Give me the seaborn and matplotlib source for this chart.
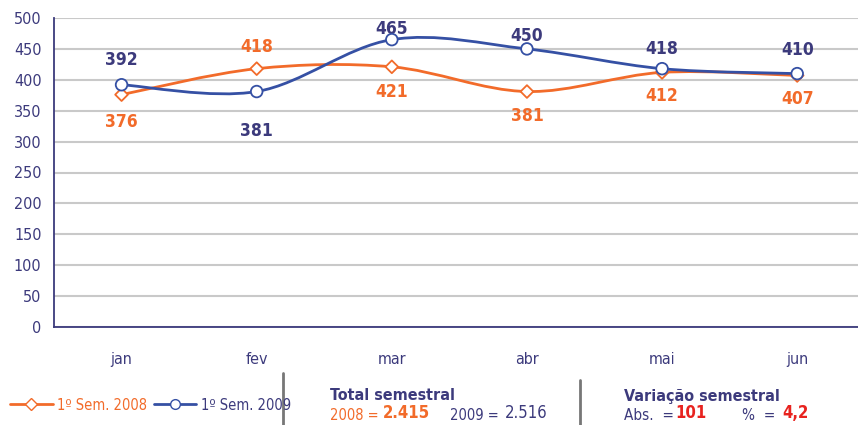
import numpy as np
import pandas as pd
import matplotlib
matplotlib.use("Agg")
import matplotlib.pyplot as plt
import seaborn as sns
from matplotlib.path import Path
from matplotlib.patches import PathPatch
from matplotlib.lines import Line2D

# data
months = ["jan", "fev", "mar", "abr", "mai", "jun"]
sem_2008 = [376, 418, 421, 381, 412, 407]
sem_2009 = [392, 381, 465, 450, 418, 410]
# vertical label offsets in pixels (positive = above the point)
off_2008 = [-27, 22, -25, -24, -24, -24]
off_2009 = [25, -39, 11, 13, 20, 24]
yticks = list(range(0, 501, 50))

ORANGE = "#F26B2A"
BLUE = "#3550A4"
NAVY = "#3C3A7C"
RED = "#E8231F"
GRID = "#C9C9C9"

sns.set_style("white")
plt.rcParams["font.family"] = ["DejaVu Sans"]
plt.rcParams["font.stretch"] = "condensed"

df = pd.DataFrame({
    "x": list(range(len(months))) * 2,
    "valor": sem_2008 + sem_2009,
    "serie": ["2008"] * len(months) + ["2009"] * len(months),
})

fig = plt.figure(figsize=(8.58, 4.25), dpi=100)
ax = fig.add_axes([54 / 858, 1 - 327 / 425, 1 - 54 / 858, (327 - 18) / 425])


def smooth_path(xs, ys):
    # catmull-rom style bezier, like excel smoothed lines
    pts = np.column_stack([xs, ys]).astype(float)
    n = len(pts)
    verts = [pts[0]]
    codes = [Path.MOVETO]
    for i in range(n - 1):
        p0 = pts[i - 1] if i > 0 else pts[i]
        p1 = pts[i]
        p2 = pts[i + 1]
        p3 = pts[i + 2] if i + 2 < n else pts[i + 1]
        c1 = p1 + (p2 - p0) / 6.0
        c2 = p2 - (p3 - p1) / 6.0
        verts += [c1, c2, p2]
        codes += [Path.CURVE4] * 3
    return Path(verts, codes)


for vals, col in [(sem_2008, ORANGE), (sem_2009, BLUE)]:
    patch = PathPatch(smooth_path(range(len(vals)), vals), facecolor="none",
                      edgecolor=col, lw=2.0, zorder=3, capstyle="round")
    ax.add_patch(patch)

sns.scatterplot(data=df, x="x", y="valor", hue="serie", style="serie",
                palette={"2008": ORANGE, "2009": BLUE},
                markers={"2008": "D", "2009": "o"},
                s=60, linewidth=1.3, legend=False, ax=ax, zorder=4)
# white fill with coloured edge
coll = ax.collections[-1]
coll.set_edgecolor([ORANGE if s == "2008" else BLUE for s in df["serie"]])
coll.set_facecolor("white")
coll.set_sizes([42 if s == "2008" else 70 for s in df["serie"]])

for vals, offs, col in [(sem_2008, off_2008, ORANGE), (sem_2009, off_2009, NAVY)]:
    for i, (v, o) in enumerate(zip(vals, offs)):
        ax.annotate(str(v), (i, v), xytext=(0, o), textcoords="offset pixels",
                    ha="center", va="center", fontsize=12.5, color=col,
                    fontweight="semibold", annotation_clip=False)

ax.set_xlim(-0.5, 5.45)
ax.set_ylim(0, 500)
ax.set_yticks(yticks)
ax.set_xticks(range(len(months)))
ax.set_xticklabels(months)
ax.set_xticks(np.arange(-0.5, len(months) - 0.5, 1.0), minor=True)
ax.tick_params(axis="x", which="major", length=0, pad=18, labelsize=11.5, labelcolor=NAVY)
ax.tick_params(axis="x", which="minor", length=6, width=1.2, color=NAVY, direction="out")
ax.tick_params(axis="y", length=5, width=1.2, color=NAVY, direction="out",
               labelsize=11.5, labelcolor=NAVY, pad=4)
ax.set_xlabel("")
ax.set_ylabel("")
ax.yaxis.grid(True, color=GRID, lw=1.5)
ax.set_axisbelow(True)
for side in ["top", "right"]:
    ax.spines[side].set_visible(False)
for side in ["left", "bottom"]:
    ax.spines[side].set_color(NAVY)
    ax.spines[side].set_linewidth(1.3)
    ax.spines[side].set_zorder(5)

# legend at bottom left
handles = [
    Line2D([], [], color=ORANGE, lw=2, marker="D", markersize=6,
           markerfacecolor="white", markeredgecolor=ORANGE),
    Line2D([], [], color=BLUE, lw=2, marker="o", markersize=7,
           markerfacecolor="white", markeredgecolor=BLUE),
]
leg = fig.legend(handles, ["1º Sem. 2008", "1º Sem. 2009"], loc="center left",
                 bbox_to_anchor=(0.0, 1 - 405 / 425), ncol=2, frameon=False,
                 fontsize=10.5, handlelength=2.9, handletextpad=0.3,
                 columnspacing=0.5, borderaxespad=0.3)
for t, c in zip(leg.get_texts(), [ORANGE, NAVY]):
    t.set_color(c)

# separators
fig.add_artist(Line2D([283 / 858, 283 / 858], [0, 1 - 373 / 425], color="#777777", lw=2))
fig.add_artist(Line2D([580 / 858, 580 / 858], [0, 1 - 380 / 425], color="#777777", lw=2))


def ftext(px, py, s, **kw):
    fig.text(px / 858, 1 - py / 425, s, va="center", ha="left", **kw)


ftext(330, 396, "Total semestral", fontsize=11.5, fontweight="bold", color=NAVY)
ftext(330, 415, "2008 =", fontsize=10.5, color=ORANGE)
ftext(383, 413, "2.415", fontsize=12, color=ORANGE, fontweight="semibold")
ftext(450, 415, "2009 =", fontsize=10.5, color=NAVY)
ftext(505, 413, "2.516", fontsize=12, color=NAVY)
ftext(624, 396, "Variação semestral", fontsize=11.5, fontweight="bold", color=NAVY)
ftext(624, 415, "Abs.  =", fontsize=11, color=NAVY)
ftext(675, 413, "101", fontsize=12, color=RED, fontweight="bold")
ftext(742, 415, "%  =", fontsize=11, color=NAVY)
ftext(782, 413, "4,2", fontsize=12, color=RED, fontweight="bold")

fig.savefig("out.png", dpi=100)
